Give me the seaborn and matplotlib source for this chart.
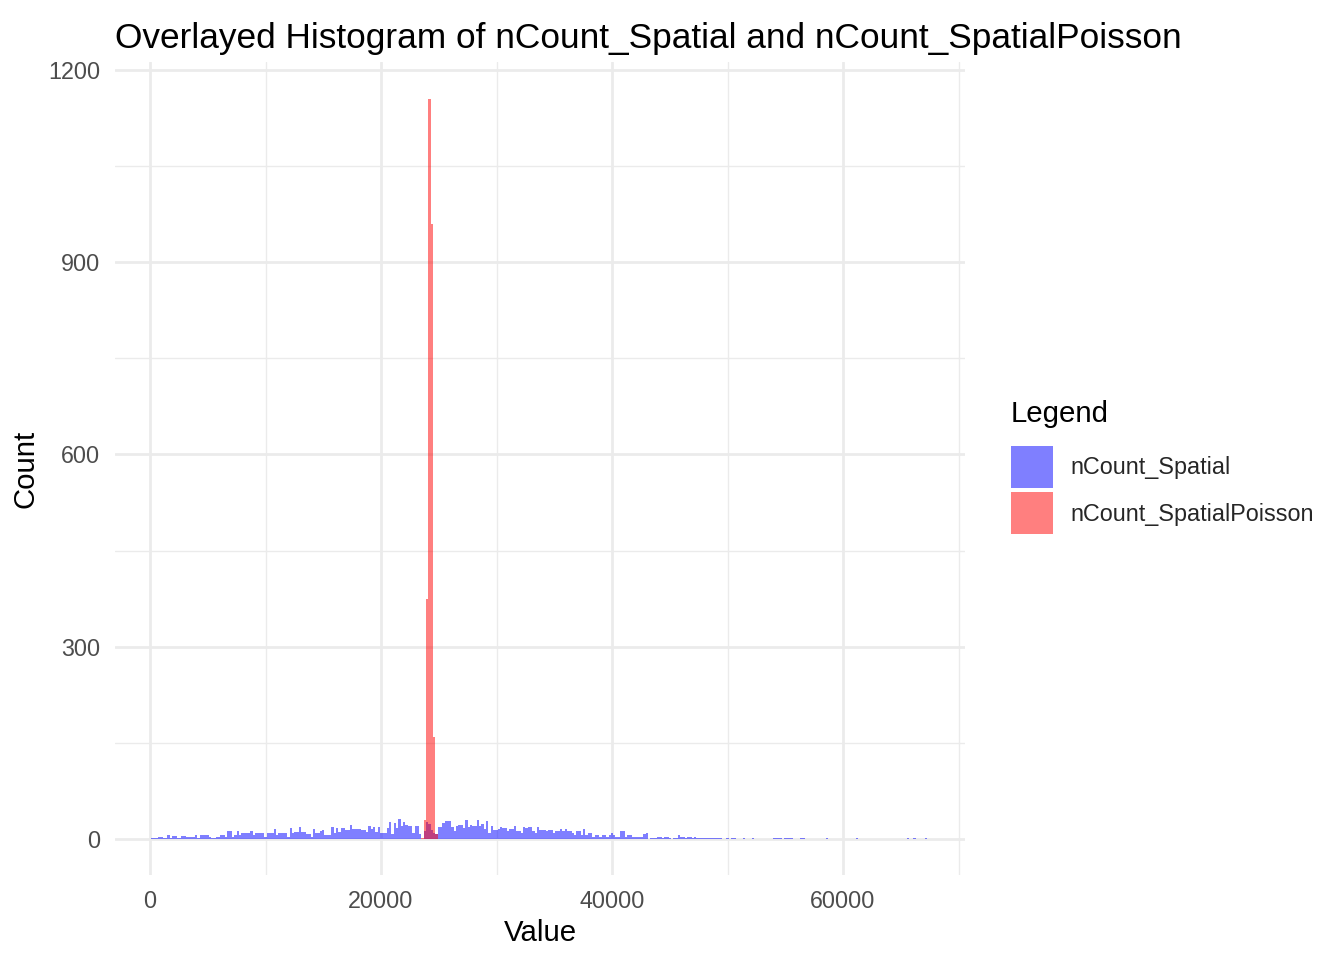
import numpy as np
import pandas as pd
import matplotlib
matplotlib.use('Agg')
import matplotlib.pyplot as plt
from matplotlib.patches import Patch
from matplotlib.ticker import MultipleLocator, FixedLocator
import seaborn as sns

# histogram bins (binwidth 200, bins centred on multiples of 200)
binwidth = 200

spatial_counts = [
    0, 1, 1, 1, 3, 3, 2, 1, 6, 1,          # 0 - 1800
    5, 5, 1, 1, 5, 5, 4, 4, 3, 4,
    6, 1, 7, 7, 6, 6, 3, 1, 1, 4,
    4, 7, 7, 4, 12, 12, 4, 6, 12, 7,
    9, 9, 9, 9, 12, 6, 10, 10, 10, 9,
    4, 10, 10, 10, 16, 7, 10, 9, 9, 9,      # 10000
    4, 17, 10, 11, 11, 19, 11, 11, 8, 8,
    3, 16, 9, 9, 12, 14, 6, 6, 6, 19,
    9, 17, 11, 17, 17, 14, 14, 22, 16, 16,
    16, 16, 14, 14, 11, 20, 16, 19, 11, 19,
    9, 9, 9, 17, 27, 8, 25, 17, 31, 20,     # 20000
    27, 22, 20, 20, 9, 20, 20, 8, 0, 12,
    27, 23, 14, 9, 8, 19, 19, 25, 28, 28,
    28, 19, 12, 20, 22, 22, 17, 30, 19, 22,
    20, 20, 30, 20, 23, 16, 28, 9, 20, 14,
    14, 16, 19, 17, 17, 12, 16, 16, 20, 12, # 30000
    12, 9, 19, 17, 19, 19, 12, 9, 19, 14,
    14, 14, 12, 14, 14, 9, 12, 12, 16, 12,
    16, 12, 12, 9, 6, 12, 12, 6, 16, 6,
    9, 9, 4, 6, 6, 4, 6, 6, 4, 6,
    9, 6, 4, 4, 12, 12, 4, 6, 6, 4,         # 40000
    4, 4, 3, 3, 8, 9, 0, 1, 1, 1,
    4, 3, 1, 4, 3, 1, 0, 1, 1, 6,
    3, 3, 1, 4, 4, 1, 3, 1, 1, 1,
    1, 1, 1, 1, 1, 1, 1, 1, 0, 0,
    1, 0, 1, 1, 0, 0, 0, 1, 0, 0,           # 50000
    0, 1, 0, 0, 0, 0, 0, 0, 0, 0,
    1, 1, 1, 1, 0, 1, 1, 1, 1, 0,
    0, 0, 1, 1, 0, 0, 0, 0, 0, 0,
    0, 0, 0, 1, 0, 0, 0, 0, 0, 0,
    0, 0, 0, 0, 0, 0, 1, 0, 0, 0,           # 60000
    0, 0, 0, 0, 0, 0, 0, 0, 0, 0,
    0, 0, 0, 0, 0, 0, 0, 0, 1, 0,
    0, 1, 0, 0, 0, 0, 1,
]
spatial_centers = np.arange(len(spatial_counts)) * binwidth

poisson_centers = [23600, 23800, 24000, 24200, 24400, 24600, 24800]
poisson_counts = [1, 30, 375, 1155, 960, 160, 8]

series_names = ['nCount_Spatial', 'nCount_SpatialPoisson']
series_colors = ['blue', 'red']
x_ticks = [0, 20000, 40000, 60000]
y_ticks = [0, 300, 600, 900, 1200]

sp_df = pd.DataFrame({'value': spatial_centers, 'n': spatial_counts})
po_df = pd.DataFrame({'value': poisson_centers, 'n': poisson_counts})

sns.set_theme(style='white')
plt.rcParams['font.family'] = ['Liberation Sans', 'DejaVu Sans']

fig = plt.figure(figsize=(1344 / 144, 960 / 144), dpi=144)
ax = fig.add_axes([115 / 1344, 85 / 960, 850 / 1344, 813 / 960])

sns.histplot(data=sp_df, x='value', weights='n', binwidth=binwidth,
             binrange=(-binwidth / 2, spatial_centers[-1] + binwidth / 2),
             color=series_colors[0], alpha=0.5, linewidth=0, ax=ax)
sns.histplot(data=po_df, x='value', weights='n', binwidth=binwidth,
             binrange=(poisson_centers[0] - binwidth / 2, poisson_centers[-1] + binwidth / 2),
             color=series_colors[1], alpha=0.5, linewidth=0, ax=ax)

ax.set_xlim(-3030, 70560)
ax.set_ylim(-56, 1212)
ax.xaxis.set_major_locator(FixedLocator(x_ticks))
ax.yaxis.set_major_locator(FixedLocator(y_ticks))
ax.xaxis.set_minor_locator(MultipleLocator(10000))
ax.yaxis.set_minor_locator(MultipleLocator(150))
ax.set_xticklabels([str(t) for t in x_ticks])
ax.set_yticklabels([str(t) for t in y_ticks])

ax.grid(which='major', color='#EBEBEB', lw=1.4)
ax.grid(which='minor', color='#EBEBEB', lw=0.7)
ax.set_axisbelow(True)
for s in ax.spines.values():
    s.set_visible(False)
ax.tick_params(which='both', length=0)
ax.tick_params(axis='x', labelsize=11.7, labelcolor='#4D4D4D', pad=7.5)
ax.tick_params(axis='y', labelsize=11.7, labelcolor='#4D4D4D', pad=7.5)

ax.set_xlabel('Value', fontsize=14.7, color='black', labelpad=3)
ax.set_ylabel('Count', fontsize=14.7, color='black', labelpad=4)
ax.set_title('Overlayed Histogram of nCount_Spatial and nCount_SpatialPoisson',
             loc='left', fontsize=17.6, color='black', pad=7)

# legend: title as its own text, keys below it
fig.text(1011 / 1344, 1 - 422 / 960, 'Legend', fontsize=14.7, color='black',
         ha='left', va='baseline')
handles = [Patch(facecolor=c, alpha=0.5, linewidth=0) for c in series_colors]
fig.legend(handles, series_names, loc='upper left',
           bbox_to_anchor=(1011 / 1344, 1 - 446 / 960), frameon=False,
           fontsize=11.7, handlelength=1.8, handleheight=2.4,
           handletextpad=0.73, labelspacing=0.17,
           borderaxespad=0, borderpad=0)

fig.savefig('out.png', dpi=144)
